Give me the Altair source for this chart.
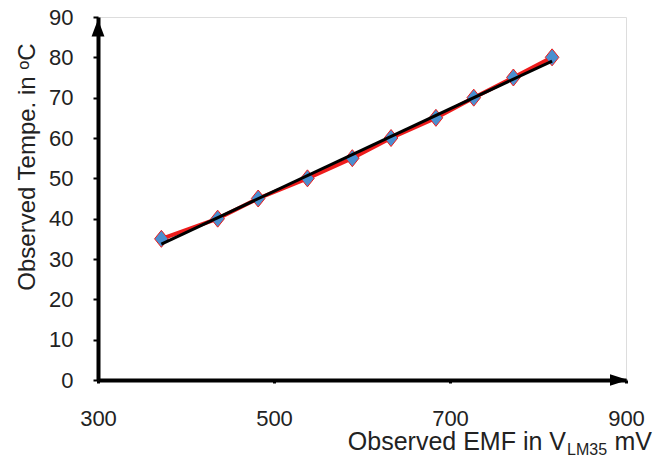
import altair as alt
import pandas as pd

emf_mv = [372, 436, 482, 538, 589, 633, 684, 727, 772, 816]
temp_c = [35, 40, 45, 50, 55, 60, 65, 70, 75, 80]
x_ticks = [300, 500, 700, 900]
y_ticks = [0, 10, 20, 30, 40, 50, 60, 70, 80, 90]

df = pd.DataFrame({"emf": emf_mv, "temp": temp_c})

FONT = "Liberation Sans"
xs = alt.Scale(domain=[300, 900], nice=False, zero=False)
ys = alt.Scale(domain=[0, 90], nice=False)

xax = alt.Axis(values=x_ticks, title=None, domainColor="black", domainWidth=4,
               tickColor="black", tickWidth=3, tickSize=3, labelFontSize=22,
               labelFont=FONT, labelColor="#222", labelPadding=25, grid=False,
               labelFlush=False)
yax = alt.Axis(values=y_ticks, title=None, domainColor="black", domainWidth=4,
               tickColor="black", tickWidth=2, tickSize=5, labelFontSize=22,
               labelFont=FONT, labelColor="#222", labelPadding=20, grid=False,
               labelFlush=False)

base = alt.Chart(df)

red_line = base.mark_line(color="#ee1c1c", strokeWidth=4).encode(
    x=alt.X("emf:Q", scale=xs, axis=xax),
    y=alt.Y("temp:Q", scale=ys, axis=yax),
)

diamonds = base.mark_point(
    shape="M0,-1L0.8,0L0,1L-0.8,0Z", filled=True, fill="#4a8fd0",
    stroke="#ee1c1c", strokeWidth=1, size=289, opacity=1
).encode(x=alt.X("emf:Q", scale=xs), y=alt.Y("temp:Q", scale=ys))

fit = base.transform_regression("emf", "temp").mark_line(
    color="black", strokeWidth=3
).encode(x=alt.X("emf:Q", scale=xs), y=alt.Y("temp:Q", scale=ys))

arrow_df = pd.DataFrame({"ax": [300], "ay": [90], "bx": [900], "by": [0]})
up_arrow = alt.Chart(arrow_df).mark_point(
    shape="M0,-1L0.76,1L-0.76,1Z", filled=True, color="black", opacity=1,
    size=289, yOffset=11
).encode(x=alt.X("ax:Q", scale=xs), y=alt.Y("ay:Q", scale=ys))
right_arrow = alt.Chart(arrow_df).mark_point(
    shape="M1,0L-1,-0.65L-1,0.65Z", filled=True, color="black", opacity=1,
    size=324, xOffset=-7
).encode(x=alt.X("bx:Q", scale=xs), y=alt.Y("by:Q", scale=ys))

title_df = pd.DataFrame({"t": [0]})
y_title = alt.Chart(title_df).mark_text(
    text="Observed Tempe. in ᵒC", angle=270, font=FONT, fontSize=24,
    color="#222", align="center", baseline="middle"
).encode(x=alt.value(-70), y=alt.value(150))
x_title_a = alt.Chart(title_df).mark_text(
    text="Observed EMF in V", font=FONT, fontSize=25, color="#222",
    align="right", baseline="alphabetic"
).encode(x=alt.value(468), y=alt.value(433))
x_title_b = alt.Chart(title_df).mark_text(
    text="LM35", font=FONT, fontSize=16, color="#222",
    align="left", baseline="alphabetic"
).encode(x=alt.value(469), y=alt.value(438))
x_title_c = alt.Chart(title_df).mark_text(
    text="mV", font=FONT, fontSize=25, color="#222",
    align="right", baseline="alphabetic"
).encode(x=alt.value(554), y=alt.value(433))

chart = alt.layer(
    red_line, diamonds, fit, up_arrow, right_arrow,
    y_title, x_title_a, x_title_b, x_title_c
).properties(
    width=528, height=363,
    autosize=alt.AutoSizeParams(type="none"),
    padding={"left": 90, "top": 9, "right": 30, "bottom": 75},
).configure_view(stroke=None).configure(background="white")

chart.save("out.html", embed_options={"renderer": "svg", "actions": False})
